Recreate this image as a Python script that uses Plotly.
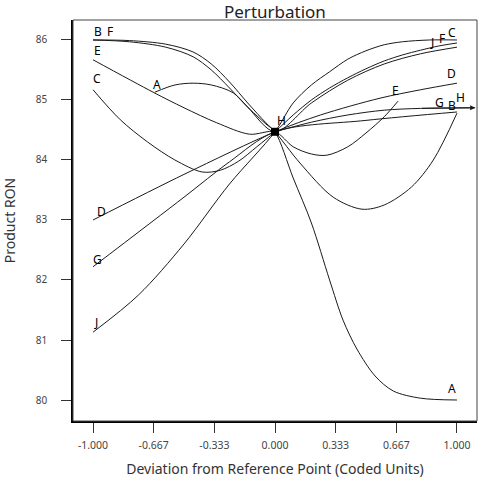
import plotly.graph_objects as go

# ---------------- data (coded deviation, Product RON) ----------------
A_x = [-0.66, -0.55, -0.45, -0.35, -0.23, -0.14, -0.05, 0.0, 0.1, 0.2, 0.3, 0.374, 0.45, 0.55, 0.65, 0.8, 1.0]
A_y = [85.13, 85.25, 85.28, 85.25, 85.12, 84.85, 84.6, 84.47, 83.7, 82.95, 82.0, 81.33, 80.85, 80.4, 80.15, 80.03, 80.0]

B_x = [-1.0, -0.8, -0.6, -0.45, -0.35, -0.25, -0.15, -0.05, 0.0, 0.137, 0.32, 0.478, 0.6, 0.75, 0.87, 1.0]
B_y = [86.0, 85.99, 85.93, 85.8, 85.6, 85.3, 84.95, 84.62, 84.47, 83.95, 83.38, 83.18, 83.25, 83.55, 84.0, 84.78]

C_x = [-1.0, -0.85, -0.7, -0.55, -0.4, -0.3, -0.2, -0.1, 0.0, 0.1, 0.2, 0.3, 0.4, 0.5, 0.6, 0.7, 0.8, 0.9, 1.0]
C_y = [85.17, 84.67, 84.3, 84.0, 83.8, 83.83, 83.98, 84.22, 84.47, 84.75, 85.0, 85.2, 85.37, 85.52, 85.65, 85.75, 85.83, 85.9, 85.95]

D_x = [-1.0, -0.5, 0.0, 0.25, 0.577, 0.8, 1.0]
D_y = [83.0, 83.76, 84.47, 84.75, 85.03, 85.17, 85.28]

E_x = [-1.0, -0.67, -0.5, -0.32, -0.14, 0.0, 0.1, 0.2, 0.285, 0.4, 0.5, 0.6, 0.676]
E_y = [85.67, 85.13, 84.87, 84.62, 84.43, 84.47, 84.22, 84.1, 84.08, 84.22, 84.45, 84.72, 84.98]

F_x = [-1.0, -0.8, -0.6, -0.45, -0.35, -0.25, -0.15, 0.0, 0.2, 0.4, 0.6, 0.8, 1.0]
F_y = [86.0, 85.97, 85.88, 85.72, 85.5, 85.2, 84.88, 84.47, 84.95, 85.33, 85.6, 85.77, 85.88]

G_x = [-1.0, -0.5, -0.25, 0.0, 0.5, 1.0]
G_y = [82.22, 83.38, 83.97, 84.47, 84.66, 84.8]

H_x = [0.0, 0.2, 0.4, 0.6, 0.8, 1.1]
H_y = [84.47, 84.63, 84.75, 84.83, 84.86, 84.87]

J_x = [-1.0, -0.75, -0.5, -0.25, 0.0, 0.1, 0.2, 0.3, 0.4, 0.5, 0.6, 0.7, 0.85, 1.0]
J_y = [81.13, 81.75, 82.6, 83.6, 84.47, 84.95, 85.25, 85.47, 85.68, 85.82, 85.92, 85.97, 86.0, 86.0]

REF_X = [0.0]
REF_Y = [84.47]

x_tickvals = [-1.0, -0.667, -0.333, 0.0, 0.333, 0.667, 1.0]
x_ticktext = ["-1.000", "-0.667", "-0.333", "0.000", "0.333", "0.667", "1.000"]
y_tickvals = [80, 81, 82, 83, 84, 85, 86]

curves = [("A", A_x, A_y), ("B", B_x, B_y), ("C", C_x, C_y), ("D", D_x, D_y),
          ("E", E_x, E_y), ("F", F_x, F_y), ("G", G_x, G_y), ("H", H_x, H_y),
          ("J", J_x, J_y)]

# label pixel offsets (dx right, dy up) relative to curve start / end
left_off = {"A": (2, 8), "B": (5, 8), "C": (4, 11), "D": (8, 8), "E": (4, 9),
            "F": (17, 8), "G": (4, 7), "J": (3, 10)}
right_off = {"A": (-5, 12), "B": (-5, 8), "C": (-5, 10), "D": (-5, 10),
             "E": (-3, 11), "F": (-15, 9), "G": (-17, 9), "H": (-15, 10),
             "J": (-25, -3)}

FONT = "Noto Sans"
fig = go.Figure()

for name, xs, ys in curves:
    fig.add_trace(go.Scatter(x=xs, y=ys, mode="lines",
                             line=dict(color="#1a1a1a", width=1, shape="spline", smoothing=0.9),
                             showlegend=False, hoverinfo="skip"))

fig.add_trace(go.Scatter(x=REF_X, y=REF_Y, mode="markers",
                         marker=dict(symbol="square", size=8, color="black"),
                         showlegend=False, hoverinfo="skip"))

ann = []
for name, xs, ys in curves:
    if xs[0] < 0 and name in left_off:
        dx, dy = left_off[name]
        ann.append(dict(x=xs[0], y=ys[0], text=name, showarrow=False, xshift=dx, yshift=dy,
                        xanchor="center", yanchor="middle", font=dict(size=12, color="black", family=FONT)))
    if name in right_off:
        dx, dy = right_off[name]
        ann.append(dict(x=xs[-1], y=ys[-1], text=name, showarrow=False, xshift=dx, yshift=dy,
                        xanchor="center", yanchor="middle", font=dict(size=12, color="black", family=FONT)))
# center label
ann.append(dict(x=REF_X[0], y=REF_Y[0], text="H", showarrow=False, xshift=6, yshift=11,
                font=dict(size=12, color="black", family=FONT)))
# arrow head for H
ann.append(dict(x=H_x[-1], y=H_y[-1], ax=H_x[-2], ay=H_y[-2], axref="x", ayref="y",
                xref="x", yref="y", text="", showarrow=True, arrowhead=2, arrowsize=1,
                arrowwidth=1, arrowcolor="#1a1a1a"))
# title
ann.append(dict(x=0.5, y=1.022, xref="paper", yref="paper", text="Perturbation", showarrow=False,
                xanchor="center", yanchor="middle", font=dict(size=17, color="#222", family=FONT)))

fig.update_layout(
    width=483, height=478,
    margin=dict(l=73, r=6, t=20, b=57, autoexpand=False),
    paper_bgcolor="white", plot_bgcolor="white",
    annotations=ann,
    shapes=[dict(type="rect", xref="paper", yref="paper", x0=0, y0=0, x1=1, y1=1,
                 line=dict(color="#444", width=1))],
    font=dict(family=FONT),
)
fig.update_xaxes(range=[-1.11, 1.11], tickvals=x_tickvals, ticktext=x_ticktext, automargin=False,
                 showgrid=False, zeroline=False, showline=True, linecolor="black", linewidth=1.5,
                 ticks="outside", ticklen=10, tickcolor="#333", tickwidth=1, ticklabelstandoff=4,
                 tickfont=dict(size=10.5, color="#444", family=FONT),
                 title=dict(text="Deviation from Reference Point (Coded Units)",
                            font=dict(size=14, color="#333", family=FONT), standoff=20))
fig.update_yaxes(range=[79.65, 86.333], tickvals=y_tickvals, automargin=False,
                 showgrid=False, zeroline=False, showline=True, linecolor="black", linewidth=1.5,
                 ticks="outside", ticklen=10, tickcolor="#333", tickwidth=1, ticklabelstandoff=12,
                 tickfont=dict(size=10, color="#444", family=FONT),
                 title=dict(text="Product RON", font=dict(size=14, color="#333", family=FONT), standoff=18))

fig.write_html("out.html")
